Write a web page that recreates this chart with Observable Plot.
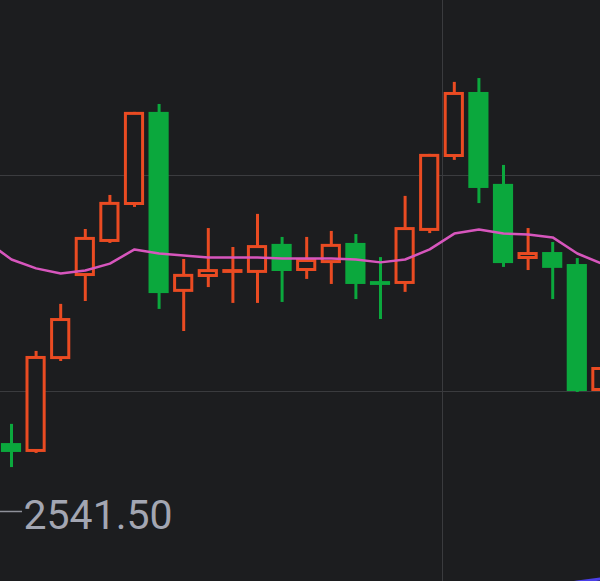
<!DOCTYPE html>
<html>
<head>
<meta charset="utf-8">
<script src="https://cdn.jsdelivr.net/npm/d3@7"></script>
<script src="https://cdn.jsdelivr.net/npm/@observablehq/plot@0.6"></script>
<style>
  html, body { margin: 0; padding: 0; background: #1c1d1f; }
  #chart { width: 600px; height: 581px; overflow: hidden; }
</style>
</head>
<body>
<div id="chart"></div>
<script>
// ---- data (prices) ----
const idx   = [1,2,3,4,5,6,7,8,9,10,11,12,13,14,15,16,17,18,19,20,21,22,23,24,25];
const open  = [2544.33,2543.96,2547.83,2551.29,2552.71,2554.25,2558.13,2550.63,2551.25,2551.42,2551.42,2552.63,2551.50,2551.83,2552.67,2551.08,2550.96,2553.17,2556.25,2558.96,2555.13,2552.00,2552.29,2551.79,2546.50];
const close = [2543.96,2547.96,2549.54,2552.92,2554.38,2558.13,2550.58,2551.38,2551.58,2551.58,2552.58,2551.50,2552.00,2552.63,2550.96,2550.92,2553.33,2556.38,2558.96,2554.96,2551.83,2552.29,2551.63,2546.50,2547.50];
const high  = [2545.13,2548.17,2550.13,2553.25,2554.67,2558.13,2558.46,2552.00,2553.29,2552.50,2553.88,2552.92,2552.92,2553.17,2553.04,2552.08,2554.63,2556.38,2559.38,2559.54,2555.92,2553.29,2552.71,2552.04,2549.96];
const low   = [2543.33,2543.92,2547.75,2550.25,2552.67,2554.17,2549.92,2549.00,2550.83,2550.17,2550.17,2550.21,2551.17,2550.96,2550.33,2549.50,2550.63,2553.08,2556.13,2554.33,2551.67,2551.54,2550.33,2546.46,2546.46];

const maIdx = [0,1,2,3,4,5,6,7,8,9,10,11,12,13,14,15,16,17,18,19,20,21,22,23,24,25];
const maVal = [2552.75,2552.00,2551.63,2551.42,2551.54,2551.83,2552.42,2552.25,2552.17,2552.08,2552.08,2552.08,2552.04,2552.04,2552.04,2552.00,2551.88,2552.00,2552.42,2553.08,2553.25,2553.08,2553.04,2552.92,2552.25,2551.83];

const ma2Idx = [23,24,25];
const ma2Val = [2538.42,2538.56,2538.70];

const gridPrices = [2546.5, 2555.5];
const gridIdx = [18.52];
const lowLabel = [2541.50];

const xDomain = [0.553, 24.943];
const yDomain = [2538.583, 2562.792];

// ---- build ----
const BG = "#1c1d1f", UP = "#ea4b22", DOWN = "#0ba83d", MA = "#d756bd", MA2 = "#4b3fe8";
const candles = idx.map((i, k) => ({i, open: open[k], close: close[k], high: high[k], low: low[k], up: close[k] >= open[k]}));
const ups = candles.filter(d => d.up), downs = candles.filter(d => !d.up);
const ma = maIdx.map((i, k) => ({i, v: maVal[k]}));
const ma2 = ma2Idx.map((i, k) => ({i, v: ma2Val[k]}));
const hw = 0.41;

const chart = Plot.plot({
  width: 600,
  height: 581,
  margin: 0,
  x: {domain: xDomain, axis: null},
  y: {domain: yDomain, axis: null},
  style: {background: BG, fontFamily: "Roboto, sans-serif"},
  marks: [
    Plot.ruleY(gridPrices, {stroke: "#3b3c3f", strokeWidth: 1}),
    Plot.ruleX(gridIdx, {stroke: "#3b3c3f", strokeWidth: 1}),
    Plot.ruleX(candles, {x: "i", y1: "low", y2: "high", stroke: d => d.up ? UP : DOWN, strokeWidth: 3}),
    Plot.rect(ups, {x1: d => d.i - hw, x2: d => d.i + hw, y1: "open", y2: "close", fill: BG, stroke: UP, strokeWidth: 3, inset: 1.5, clip: true}),
    Plot.rect(downs, {x1: d => d.i - hw, x2: d => d.i + hw, y1: "open", y2: "close", fill: DOWN, clip: true}),
    Plot.line(ma, {x: "i", y: "v", stroke: MA, strokeWidth: 2.5, clip: true}),
    Plot.line(ma2, {x: "i", y: "v", stroke: MA2, strokeWidth: 3, clip: true}),
    Plot.ruleY(lowLabel, {x1: xDomain[0], x2: xDomain[0] + 22 / 24.6, stroke: "#8e9099", strokeWidth: 1.5}),
    Plot.text(lowLabel, {y: d => d, text: d => d.toFixed(2), frameAnchor: "left", textAnchor: "start", dx: 23, dy: 4, fontSize: 41, fill: "#a3a6b2"})
  ]
});
document.getElementById("chart").appendChild(chart);
</script>
</body>
</html>
